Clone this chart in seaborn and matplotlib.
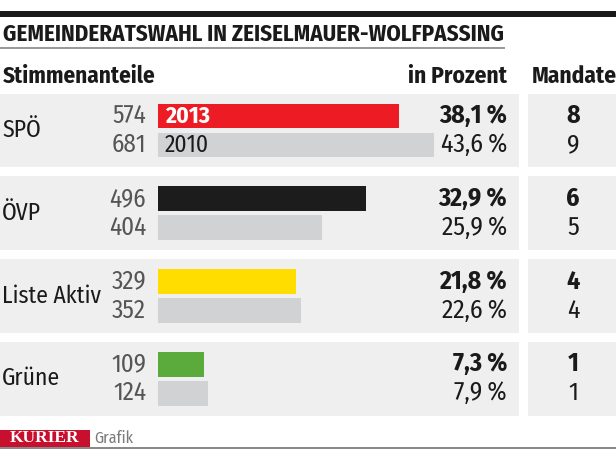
import matplotlib
matplotlib.use('Agg')
import matplotlib.pyplot as plt
from matplotlib.patches import Rectangle
import seaborn as sns
import pandas as pd

# data
parties = ['SPÖ', 'ÖVP', 'Liste Aktiv', 'Grüne']
votes_2013 = [574, 496, 329, 109]
votes_2010 = [681, 404, 352, 124]
pct_2013 = [38.1, 32.9, 21.8, 7.3]
pct_2010 = [43.6, 25.9, 22.6, 7.9]
seats_2013 = [8, 6, 4, 1]
seats_2010 = [9, 5, 4, 1]
party_colors = ['#ed1c24', '#1c1c1c', '#ffdd00', '#5aaa3c']
grey_bar = '#d1d2d4'
panel_bg = '#efefef'

sns.set_style('white')
plt.rcParams['font.family'] = ['Fira Sans Condensed', 'DejaVu Sans']

W, H = 616, 450
fig = plt.figure(figsize=(W / 100, H / 100), dpi=100)
ax = fig.add_axes([0, 0, 1, 1])

# pixel -> data helpers (x: percent units, y: category units)
X0, XS = 158, 6.33
Y0, YS = 130.5, 82.7


def X(px):
    return (px - X0) / XS


def Y(py):
    return (py - Y0) / YS


df = pd.DataFrame({
    'party': parties * 2,
    'pct': pct_2013 + pct_2010,
    'year': ['2013'] * 4 + ['2010'] * 4,
})

sns.barplot(data=df, y='party', x='pct', hue='year', hue_order=['2013', '2010'],
            orient='h', width=0.7, gap=0.14, palette=['#ed1c24', grey_bar],
            linewidth=0, legend=False, ax=ax, zorder=3)

for p in ax.patches:
    yc = p.get_y() + p.get_height() / 2
    k = int(round(yc))
    p.set_color(party_colors[k] if yc < k else grey_bar)

ax.set_xlim(X(0), X(W))
ax.set_ylim(Y(H), Y(0))
ax.axis('off')

# row panels
for k in range(len(parties)):
    ax.add_patch(Rectangle((X(0), k - 0.447), X(519) - X(0), 0.894,
                           color=panel_bg, zorder=0, lw=0))
    ax.add_patch(Rectangle((X(528), k - 0.447), X(W) - X(528), 0.894,
                           color=panel_bg, zorder=0, lw=0))

fs = 18.5
for k, name in enumerate(parties):
    ax.text(X(2), k, name, ha='left', va='center', fontsize=17, color='#1a1a1a')
    for off, v, pc, s, bold in [(-0.175, votes_2013[k], pct_2013[k], seats_2013[k], True),
                                (0.175, votes_2010[k], pct_2010[k], seats_2010[k], False)]:
        w = 'bold' if bold else 'normal'
        ax.text(X(146), k + off, str(v), ha='right', va='center', fontsize=18,
                color='#555555')
        ax.text(X(507), k + off, f'{pc:.1f}\u2009%'.replace('.', ','), ha='right',
                va='center', fontsize=fs, color='#1a1a1a', fontweight=w)
        ax.text(X(573), k + off, str(s), ha='center', va='center', fontsize=fs,
                color='#1a1a1a', fontweight=w)

ax.text(X(165), -0.175, '2013', ha='left', va='center', fontsize=17,
        color='white', fontweight='bold', zorder=4)
ax.text(X(165), 0.175, '2010', ha='left', va='center', fontsize=17,
        color='#1a1a1a', zorder=4)


def fx(px):
    return px / W


def fy(py):
    return 1 - py / H


# header
fig.add_artist(Rectangle((0, fy(17)), 1, fy(11) - fy(17), color='#1a1a1a',
                         transform=fig.transFigure, lw=0))
fig.text(fx(3), fy(34), 'GEMEINDERATSWAHL IN ZEISELMAUER-WOLFPASSING', ha='left',
         va='center', fontsize=16.5, fontweight='bold', color='#1a1a1a')
fig.add_artist(Rectangle((0, fy(49)), fx(505), fy(47) - fy(49), color='#9a9a9a',
                         transform=fig.transFigure, lw=0))
fig.text(fx(3), fy(76), 'Stimmenanteile', ha='left', va='center', fontsize=16.6,
         fontweight='bold', color='#1a1a1a')
fig.text(fx(507), fy(76), 'in Prozent', ha='right', va='center', fontsize=16.8,
         fontweight='bold', color='#1a1a1a')
fig.text(fx(532), fy(76), 'Mandate', ha='left', va='center', fontsize=16.8,
         fontweight='bold', color='#1a1a1a')

# footer
fig.add_artist(Rectangle((0, fy(447)), fx(90), fy(430) - fy(447), color='#c8102e',
                         transform=fig.transFigure, lw=0))
fig.text(fx(45), fy(438.5), 'KURIER', ha='center', va='center', fontsize=12.5,
         fontweight='bold', color='white', family=['Liberation Serif', 'DejaVu Serif'])
fig.text(fx(94), fy(438), 'Grafik', ha='left', va='center', fontsize=11.5,
         color='#7a7a7a')
fig.add_artist(Rectangle((0, fy(449)), 1, fy(447) - fy(449), color='#8a8a8a',
                         transform=fig.transFigure, lw=0))

fig.savefig('out.png', dpi=100)
